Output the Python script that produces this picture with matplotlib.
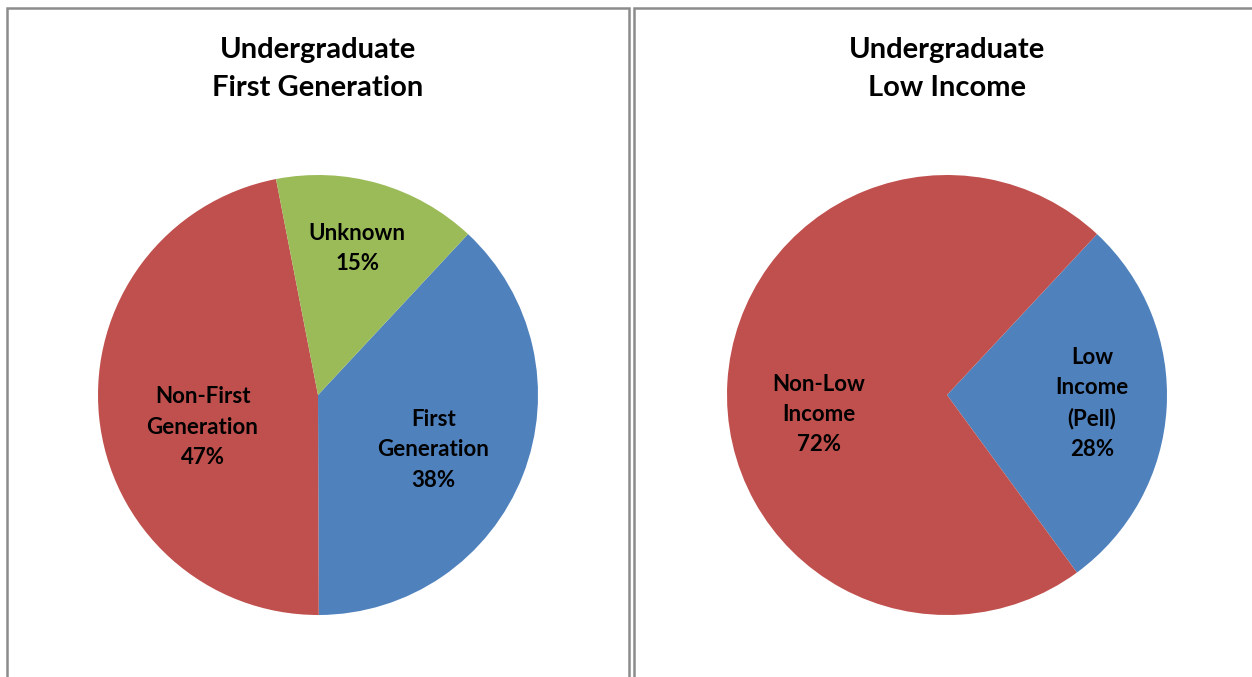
import matplotlib
matplotlib.use("Agg")
import matplotlib.pyplot as plt
import numpy as np
from matplotlib.patches import Rectangle

# ---- data ----
titles = ["Undergraduate\nFirst Generation", "Undergraduate\nLow Income"]
fg_labels = ["First\nGeneration", "Non-First\nGeneration", "Unknown"]
fg_values = [38, 47, 15]
li_labels = ["Low\nIncome\n(Pell)", "Non-Low\nIncome"]
li_values = [28, 72]

# ---- style ----
BLUE, RED, GREEN = "#4F81BD", "#C0504D", "#9BBB59"
fg_colors = [BLUE, RED, GREEN]
li_colors = [BLUE, RED]
fg_label_r = [0.58, 0.545, 0.69]
li_label_r = [0.66, 0.59]
li_angle_adj = [0, -12]
fg_angle_adj = [4, -10, -1]
START_CW = 43  # degrees clockwise from 12 o'clock

FONT = "Lato"
W, H = 1252, 677
fig = plt.figure(figsize=(W / 100, H / 100), dpi=100)
fig.patch.set_facecolor("white")

def fx(px):
    return px / W

def fy(py):
    return 1 - py / H

# panel borders
border_kw = dict(transform=fig.transFigure, fill=False, edgecolor="#8C8C8C",
                 linewidth=1.8, clip_on=False)
fig.patches.append(Rectangle((fx(6.5), fy(700)), fx(622), fy(7.5) - fy(700), **border_kw))
fig.patches.append(Rectangle((fx(634), fy(700)), fx(700), fy(7.5) - fy(700), **border_kw))

def draw(cx, cy, r, values, labels, colors, label_r, angle_adj, title):
    ax = fig.add_axes([fx(cx - r), fy(cy + r), fx(2 * r), fy(cy - r) - fy(cy + r)])
    ax.pie(values, colors=colors, startangle=90 - START_CW, counterclock=False,
           radius=1, wedgeprops=dict(linewidth=0))
    ax.set_xlim(-1, 1)
    ax.set_ylim(-1, 1)
    ax.set_aspect("equal")
    ax.axis("off")
    total = float(sum(values))
    cum = START_CW
    for v, lab, lr, adj in zip(values, labels, label_r, angle_adj):
        span = 360 * v / total
        mid = cum + span / 2 + adj
        cum += span
        th = np.deg2rad(90 - mid)
        ax.text(lr * np.cos(th), lr * np.sin(th), f"{lab}\n{round(100 * v / total)}%",
                ha="center", va="center", fontsize=16, fontweight="bold",
                family=FONT, color="black", linespacing=1.55)
    fig.text(fx(cx), fy(69), title, ha="center", va="center", fontsize=21,
             fontweight="bold", family=FONT, color="black", linespacing=1.55)

draw(318, 395, 220, fg_values, fg_labels, fg_colors, fg_label_r, fg_angle_adj, titles[0])
draw(947, 395, 220, li_values, li_labels, li_colors, li_label_r, li_angle_adj, titles[1])

fig.savefig("out.png", dpi=100, facecolor="white")
